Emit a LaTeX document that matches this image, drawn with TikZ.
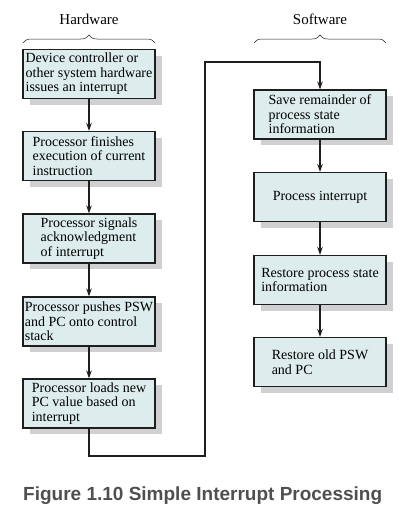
\documentclass[tikz,border=0pt]{standalone}
\usepackage{fontspec}
\setmainfont{Liberation Serif}
\newfontfamily\capfont{Liberation Sans}
\usetikzlibrary{arrows.meta,shadows,decorations.pathreplacing}
\definecolor{boxfill}{HTML}{DDECEC}
\definecolor{shadowgray}{HTML}{D0D0D2}
\definecolor{linecol}{HTML}{1E1E1E}
\definecolor{capcol}{HTML}{4F4F4F}
\tikzset{
  stepbox/.style={draw=linecol, line width=1.1pt, fill=boxfill,
    minimum width=132pt, minimum height=49pt, inner sep=0pt,
    align=left, font=\fontsize{14}{14.5}\selectfont,
    drop shadow={shadow xshift=7pt, shadow yshift=-6pt, fill=shadowgray, opacity=1}},
  flow/.style={draw=linecol, line width=1.8pt, -{Stealth[length=8pt,width=5.5pt]}},
  bracestyle/.style={draw=linecol, line width=0.5pt, decorate,
    decoration={brace, amplitude=8pt, raise=0pt}},
  headlabel/.style={font=\fontsize{15}{15}\selectfont, anchor=base}
}
\begin{document}
\begin{tikzpicture}[x=1pt,y=-1pt]
\useasboundingbox (0,0) rectangle (416,514);
% labels
\node[headlabel] (hw) at (89,24) {Hardware};
\node[headlabel] (sw) at (320,24) {Software};
\coordinate (hwl) at (23,43); \coordinate (hwr) at (155,43);
\coordinate (swl) at (254,43); \coordinate (swr) at (386,43);
\draw[bracestyle] (hwl) -- (hwr);
\draw[bracestyle] (swl) -- (swr);
% hardware boxes
\node[stepbox] (b1) at (89,74) {Device controller or\\other system hardware\\issues an interrupt};
\node[stepbox] (b2) at (89,156) {Processor finishes\\execution of current\\instruction};
\node[stepbox] (b3) at (89,238.5) {Processor signals\\acknowledgment\\of interrupt};
\node[stepbox] (b4) at (89,321.5) {Processor pushes PSW\\and PC onto control\\stack};
\node[stepbox] (b5) at (89,403.5) {Processor loads new\\PC value based on\\interrupt};
% software boxes
\node[stepbox] (r1) at (320,114.5) {Save remainder of\\process state\\information};
\node[stepbox] (r2) at (320,197) {Process interrupt};
\node[stepbox] (r3) at (320,280) {Restore process state\\information};
\node[stepbox] (r4) at (320,362) {Restore old PSW\\and PC};
% connectors
\draw[flow] (b1) -- (b2);
\draw[flow] (b2) -- (b3);
\draw[flow] (b3) -- (b4);
\draw[flow] (b4) -- (b5);
\coordinate (c1) at (89,456);
\coordinate (c2) at (205,456);
\coordinate (c3) at (205,62);
\draw[flow] (b5.south) -- (c1) -- (c2) -- (c3) -- (r1.north |- c3) -- (r1.north);
\draw[flow] (r1) -- (r2);
\draw[flow] (r2) -- (r3);
\draw[flow] (r3) -- (r4);
% caption
\node[anchor=base west, inner sep=0pt, text=capcol, font=\capfont\bfseries\fontsize{19}{19}\selectfont] (cap) at (23,500) {Figure 1.10 Simple Interrupt Processing};
\end{tikzpicture}
\end{document}
